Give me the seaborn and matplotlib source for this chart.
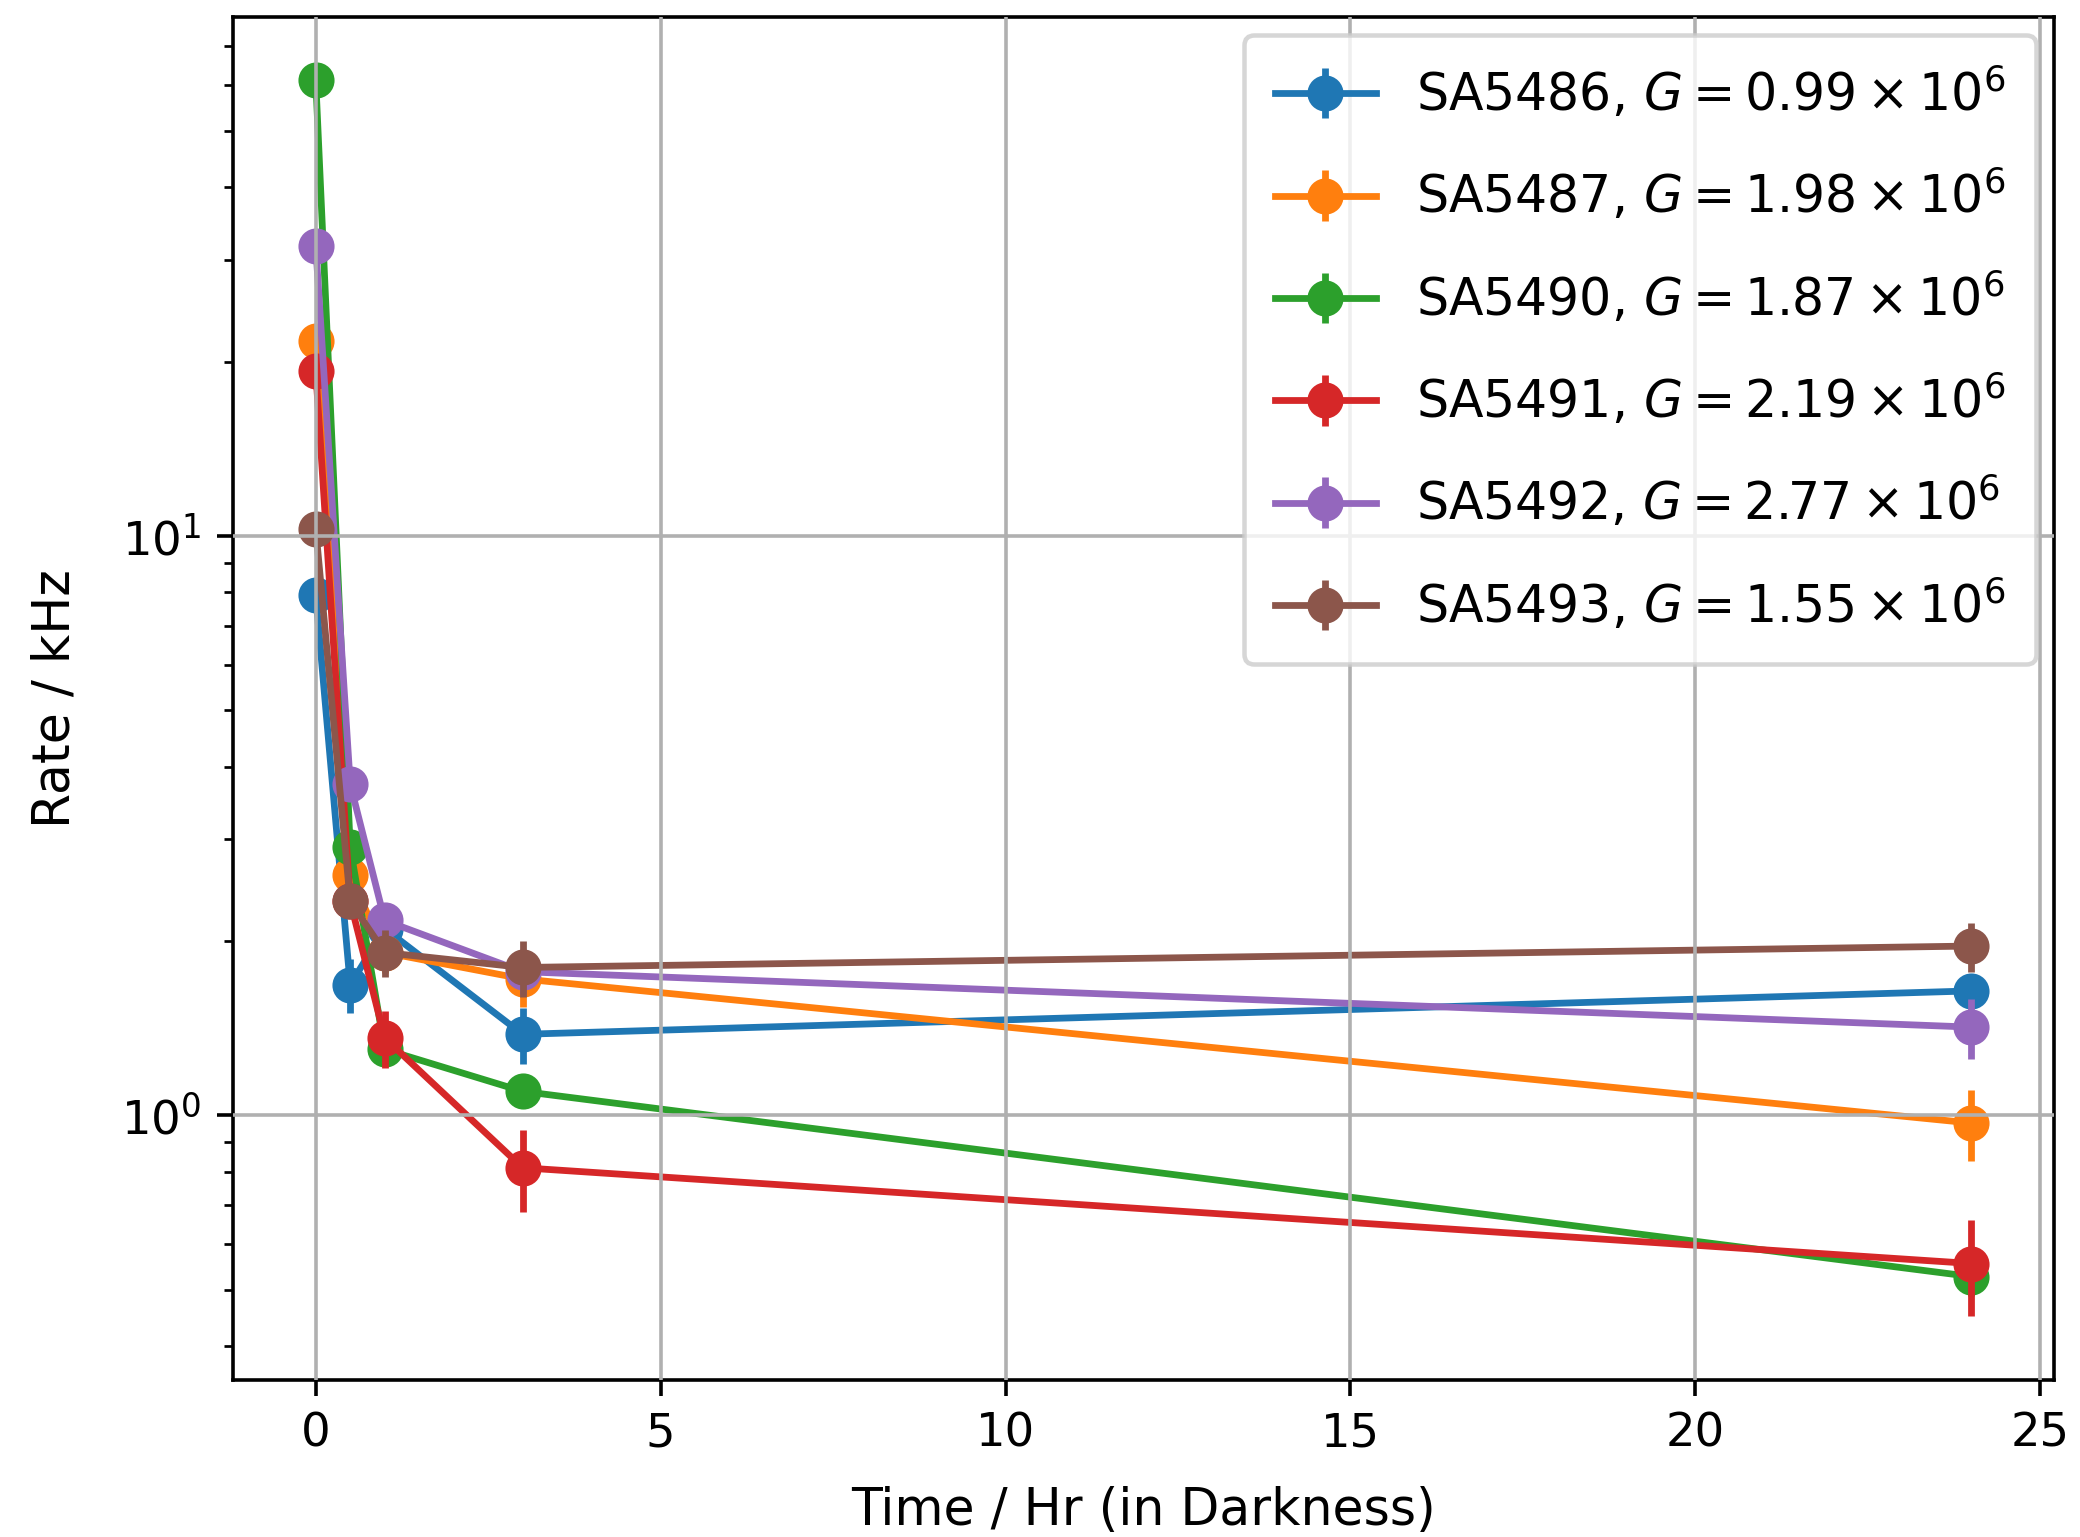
import numpy as np
import pandas as pd
import matplotlib
matplotlib.use("Agg")
import matplotlib.pyplot as plt
import seaborn as sns
from matplotlib.container import ErrorbarContainer

# ---- data ----
times = [0, 0.5, 1, 3, 24]

labels = [
    r"SA5486, $G = 0.99 \times 10^6$",
    r"SA5487, $G = 1.98 \times 10^6$",
    r"SA5490, $G = 1.87 \times 10^6$",
    r"SA5491, $G = 2.19 \times 10^6$",
    r"SA5492, $G = 2.77 \times 10^6$",
    r"SA5493, $G = 1.55 \times 10^6$",
]

rate_sa5486 = [7.9, 1.68, 2.1, 1.38, 1.64]
rate_sa5487 = [21.7, 2.6, 1.91, 1.72, 0.97]
rate_sa5490 = [61.3, 2.9, 1.30, 1.10, 0.527]
rate_sa5491 = [19.3, 2.34, 1.36, 0.812, 0.555]
rate_sa5492 = [31.7, 3.73, 2.17, 1.77, 1.42]
rate_sa5493 = [10.3, 2.34, 1.91, 1.80, 1.96]

err_sa5486 = [0.25, 0.18, 0.15, 0.155, 0.07]
err_sa5487 = [0.6, 0.15, 0.15, 0.18, 0.135]
err_sa5490 = [1.2, 0.15, 0.08, 0.05, 0.04]
err_sa5491 = [0.6, 0.15, 0.155, 0.13, 0.105]
err_sa5492 = [0.9, 0.2, 0.15, 0.15, 0.17]
err_sa5493 = [0.35, 0.15, 0.18, 0.2, 0.19]

rates = [rate_sa5486, rate_sa5487, rate_sa5490, rate_sa5491, rate_sa5492, rate_sa5493]
errs = [err_sa5486, err_sa5487, err_sa5490, err_sa5491, err_sa5492, err_sa5493]

colors = sns.color_palette("tab10", 6)

fig = plt.figure(figsize=(2080 / 325, 1537 / 325), dpi=325)
ax = fig.add_subplot(111)
fig.subplots_adjust(left=0.112, right=0.9875, bottom=0.102, top=0.989)

handles = []
for lab, r, e, c in zip(labels, rates, errs, colors):
    df = pd.DataFrame({"t": times, "rate": r})
    sns.lineplot(data=df, x="t", y="rate", ax=ax, color=c, marker="o",
                 markersize=7, markeredgecolor=c, markeredgewidth=1.0,
                 linewidth=1.5, errorbar=None, legend=False, sort=False)
    line = ax.lines[-1]
    eb = ax.errorbar(times, r, yerr=e, fmt="none", ecolor=c, elinewidth=1.5)
    cont = ErrorbarContainer((line, (), eb.lines[2]), has_xerr=False,
                             has_yerr=True, label=lab)
    handles.append(cont)

ax.set_yscale("log")
ax.set_xlim(-1.2, 25.2)
ax.set_ylim(0.349, 78.7)
ax.set_xticks([0, 5, 10, 15, 20, 25])
ax.grid(True, which="major", color="#b0b0b0", linewidth=0.8)
ax.set_axisbelow(False)
ax.set_xlabel("Time / Hr (in Darkness)", fontsize=11.2, labelpad=6.5)
ax.set_ylabel("Rate / kHz", fontsize=11.2, labelpad=9)
ax.tick_params(labelsize=10.3)
for s in ax.spines.values():
    s.set_color("black")
    s.set_linewidth(0.8)

ax.legend(handles=handles, labels=labels, loc="upper right", fontsize=11.2,
          labelspacing=0.9, borderaxespad=0.35, borderpad=0.6)

fig.savefig("out.png", dpi=325)
